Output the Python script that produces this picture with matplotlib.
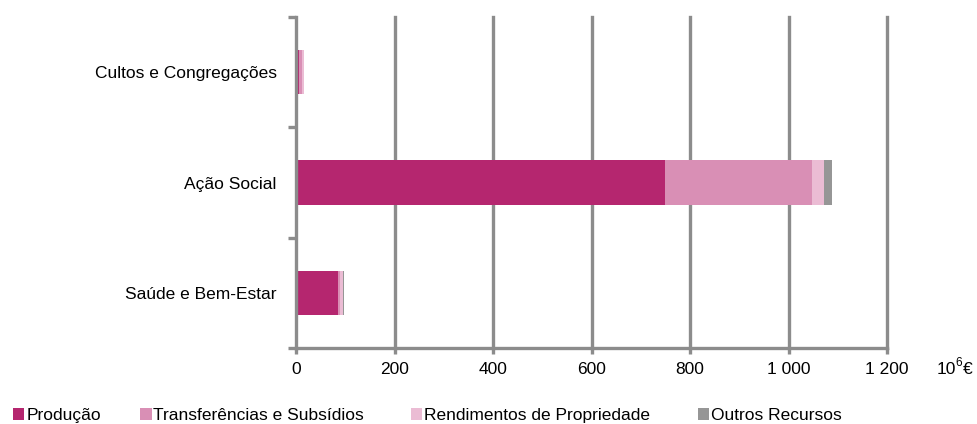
import matplotlib
matplotlib.use("Agg")
import matplotlib.pyplot as plt
import numpy as np

plt.rcParams['font.family'] = ['Liberation Sans', 'DejaVu Sans']

categories = ['Saúde e Bem-Estar', 'Ação Social', 'Cultos e Congregações']
series = ['Produção', 'Transferências e Subsídios', 'Rendimentos de Propriedade', 'Outros Recursos']
producao = [85, 749, 6]
transferencias = [4, 299, 7]
rendimentos = [6, 24, 3]
outros = [2, 16, 0.5]
colors = ['#B5266F', '#D98FB5', '#EBBCD4', '#969696']
xticks = [0, 200, 400, 600, 800, 1000, 1200]
xticklabels = ['0', '200', '400', '600', '800', '1 000', '1 200']

fs = 12.5
fig = plt.figure(figsize=(9.78, 4.24), dpi=100)
ax = fig.add_axes([0.3027, 0.179, 0.6043, 0.781])

grid_c = '#8C8C8C'
for t in xticks[1:]:
    ax.axvline(t, color=grid_c, lw=2.4, zorder=0, clip_on=False)

y = np.arange(len(categories))
left = np.zeros(len(categories))
bars = []
for name, vals, c in zip(series, [producao, transferencias, rendimentos, outros], colors):
    b = ax.barh(y, vals, left=left, height=0.4, color=c, label=name, zorder=2)
    bars.append(b)
    left += np.array(vals)

ax.set_xlim(0, 1200)
ax.set_ylim(-0.5, 2.5)
ax.set_xticks(xticks)
ax.set_xticklabels(xticklabels, fontsize=fs)
ax.set_yticks([-0.5, 0.5, 1.5, 2.5], minor=False)
ax.set_yticklabels([])
ax.set_yticks(y, minor=True)
ax.set_yticklabels(categories, minor=True, fontsize=fs)
ax.tick_params(axis='y', which='minor', length=0, pad=14)
ax.tick_params(axis='y', which='major', length=6, width=2.4, color=grid_c)
ax.tick_params(axis='x', length=4, width=2.4, color=grid_c, pad=6)

for s in ['top', 'right']:
    ax.spines[s].set_visible(False)
for s in ['left', 'bottom']:
    ax.spines[s].set_color(grid_c)
    ax.spines[s].set_linewidth(2.4)

fig.text(0.958, 0.128, '10', fontsize=fs, ha='left', va='center')
fig.text(0.9765, 0.145, '6', fontsize=8.5, ha='left', va='center')
fig.text(0.9845, 0.128, '€', fontsize=fs, ha='left', va='center')

legend_x = [0.001, 0.131, 0.408, 0.701]
for b, name, lx in zip(bars, series, legend_x):
    leg = fig.legend([b], [name], loc='center left', bbox_to_anchor=(lx, 0.02),
                     frameon=False, fontsize=fs, handlelength=0.65, handleheight=0.65,
                     handletextpad=0.1, borderaxespad=0.3)

fig.savefig('out.png', dpi=100)
